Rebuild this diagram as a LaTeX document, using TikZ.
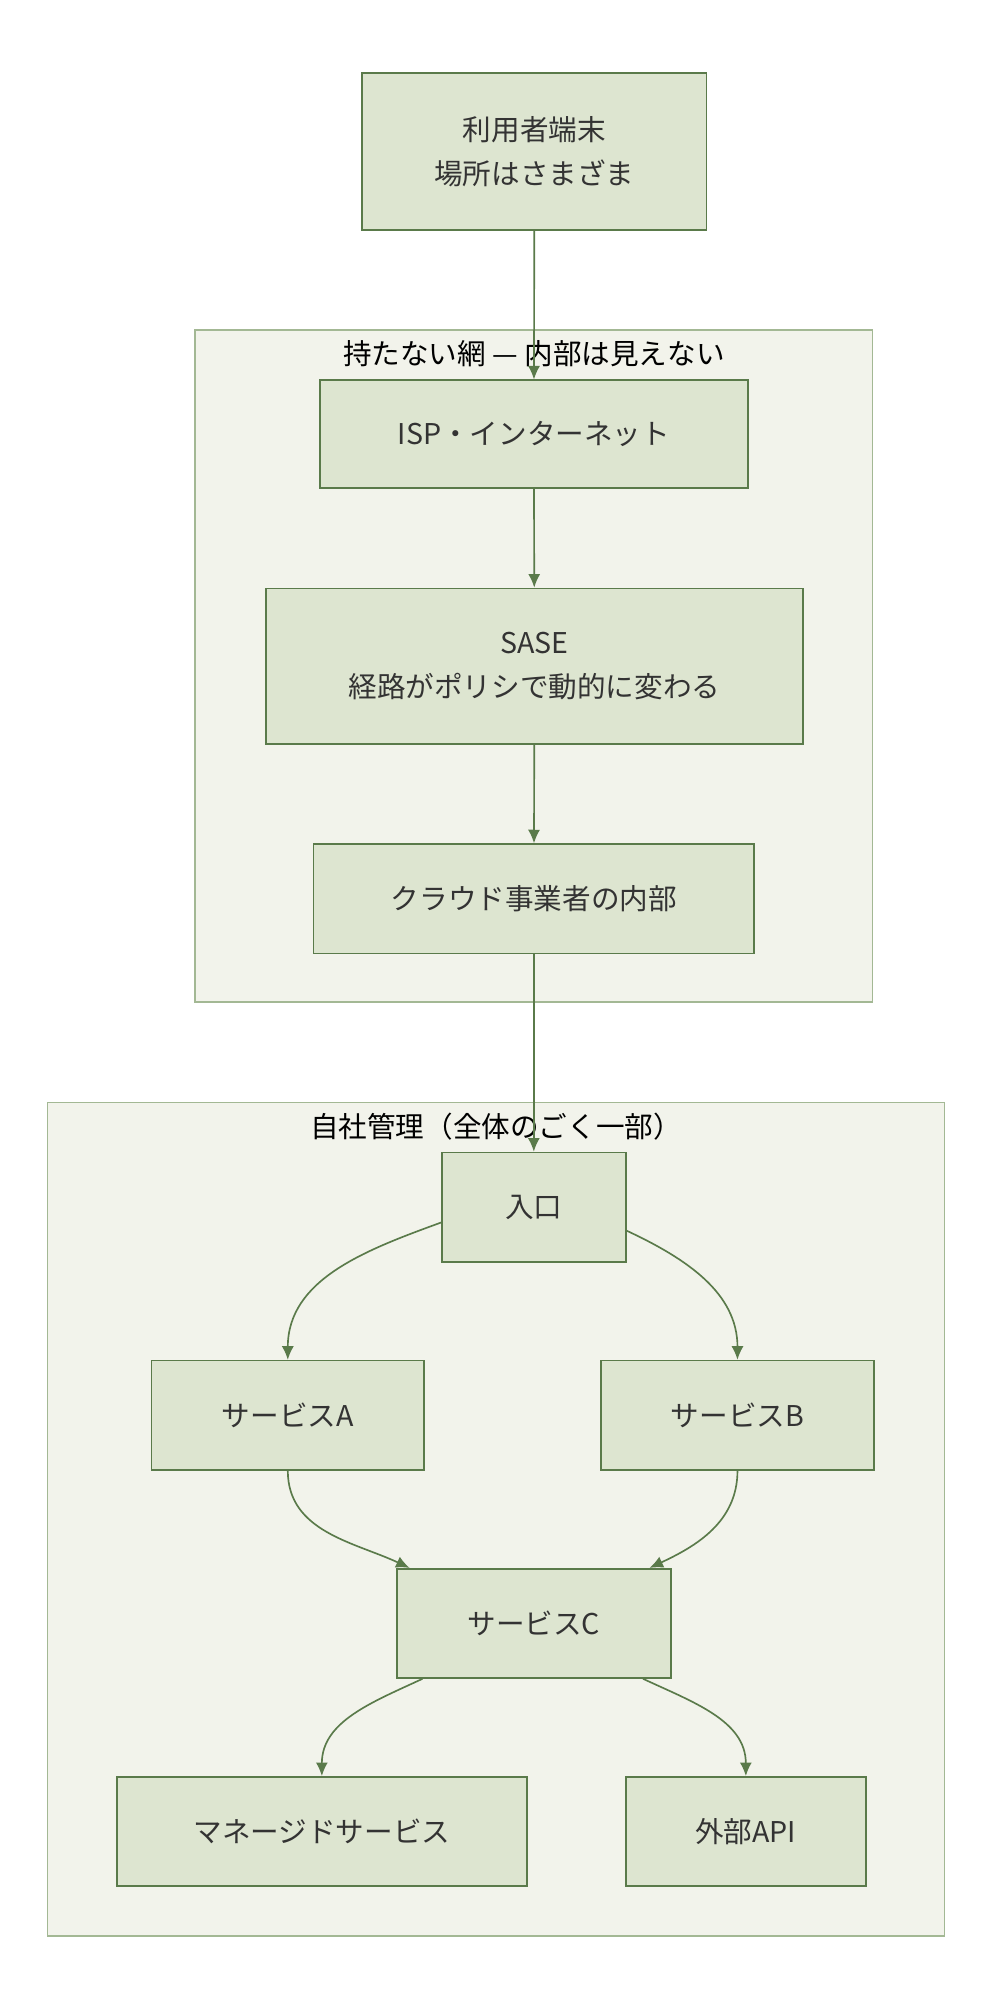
\documentclass[tikz,border=0pt]{standalone}
\usepackage{fontspec}
\setmainfont{Noto Sans CJK JP}
\usetikzlibrary{arrows.meta}
\definecolor{boxfill}{HTML}{DDE5D0}
\definecolor{boxline}{HTML}{5A7A4A}
\definecolor{grpfill}{HTML}{F2F3EB}
\definecolor{grpline}{HTML}{A3B894}
\definecolor{txt}{HTML}{333333}
\begin{document}
\begin{tikzpicture}[x=0.03cm, y=-0.03cm, line width=1.1pt,
  box/.style={draw=boxline, fill=boxfill, text=txt, align=center, inner sep=0pt,
    font=\fontsize{19}{29}\selectfont},
  grp/.style={draw=grpline, fill=grpfill},
  grplabel/.style={font=\fontsize{19}{24}\selectfont, text=black},
  link/.style={draw=boxline, -{Latex[length=9pt,width=8pt]}}]
\useasboundingbox[fill=white] (0,0) rectangle (772,1566);
% groups
\draw[grp] (152,257) rectangle (679,780);
\node[grplabel] (netlabel) at (415.5,275) {持たない網 — 内部は見えない};
\draw[grp] (37,858) rectangle (735,1507);
\node[grplabel] (ownlabel) at (386,877) {自社管理（全体のごく一部）};
% nodes
\node[box, minimum width=8.04cm, minimum height=3.66cm] (user) at (416,118) {利用者端末\\場所はさまざま};
\node[box, minimum width=9.99cm, minimum height=2.52cm] (isp) at (415.5,338) {ISP・インターネット};
\node[box, minimum width=12.54cm, minimum height=3.63cm] (sase) at (416,518.5) {SASE\\経路がポリシで動的に変わる};
\node[box, minimum width=10.29cm, minimum height=2.55cm] (cloud) at (415.5,699.5) {クラウド事業者の内部};
\node[box, minimum width=4.29cm, minimum height=2.55cm] (entry) at (415.5,939.5) {入口};
\node[box, minimum width=6.36cm, minimum height=2.55cm] (svca) at (224,1101.5) {サービスA};
\node[box, minimum width=6.36cm, minimum height=2.55cm] (svcb) at (574,1101.5) {サービスB};
\node[box, minimum width=6.39cm, minimum height=2.55cm] (svcc) at (415.5,1263.5) {サービスC};
\node[box, minimum width=9.57cm, minimum height=2.55cm] (managed) at (250.5,1425.5) {マネージドサービス};
\node[box, minimum width=5.61cm, minimum height=2.55cm] (api) at (580.5,1425.5) {外部API};
% links
\draw[link] (user) -- (isp);
\draw[link] (isp) -- (sase);
\draw[link] (sase) -- (cloud);
\draw[link] (cloud) -- (entry);
\draw[link] ([yshift=-0.36cm]entry.west) to[out=200, in=90] (svca.north);
\draw[link] ([yshift=-0.55cm]entry.east) to[out=-25, in=90] (svcb.north);
\draw[link] (svca.south) to[out=-90, in=155] ([xshift=-2.9cm]svcc.north);
\draw[link] (svcb.south) to[out=-90, in=25] ([xshift=2.7cm]svcc.north);
\draw[link] ([xshift=-2.6cm]svcc.south) to[out=205, in=90] (managed.north);
\draw[link] ([xshift=2.55cm]svcc.south) to[out=-25, in=90] (api.north);
\end{tikzpicture}
\end{document}
